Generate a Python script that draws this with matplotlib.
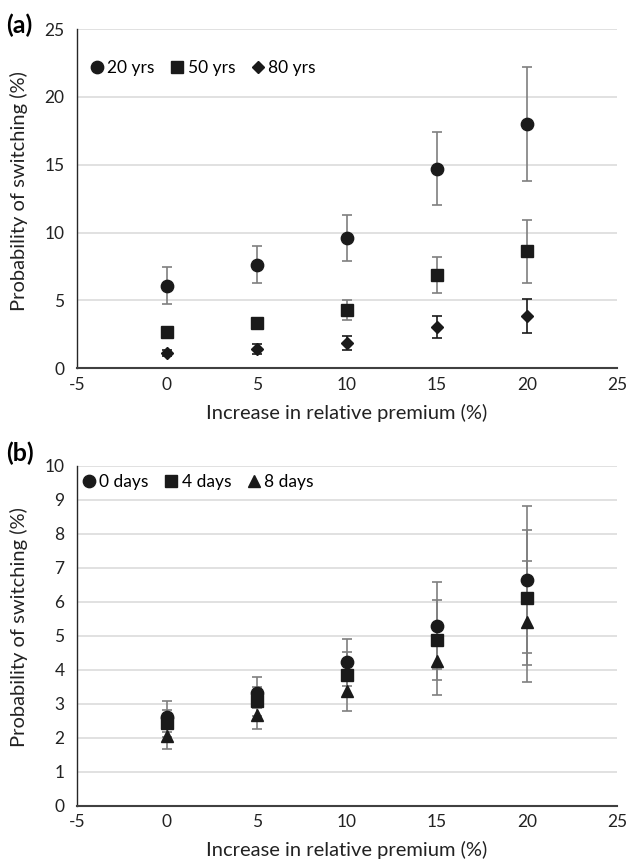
import matplotlib
matplotlib.use("Agg")
import matplotlib.pyplot as plt

plt.rcParams['font.family'] = ['Lato', 'DejaVu Sans']
plt.rcParams['axes.unicode_minus'] = False

# x positions (increase in relative premium, %)
premium = [0, 5, 10, 15, 20]

# panel (a): age groups
a_labels = ['20 yrs', '50 yrs', '80 yrs']
a_20 = [6.10, 7.65, 9.60, 14.70, 18.00]
a_20_err = [1.37, 1.35, 1.72, 2.69, 4.23]
a_50 = [2.65, 3.36, 4.30, 6.88, 8.62]
a_50_err = [0.30, 0.30, 0.77, 1.36, 2.30]
a_80 = [1.13, 1.42, 1.87, 3.02, 3.86]
a_80_err = [0.25, 0.35, 0.49, 0.80, 1.25]

# panel (b): days
b_labels = ['0 days', '4 days', '8 days']
b_0 = [2.62, 3.33, 4.22, 5.30, 6.65]
b_0_err = [0.46, 0.45, 0.69, 1.28, 2.16]
b_4 = [2.42, 3.07, 3.85, 4.87, 6.12]
b_4_err = [0.39, 0.42, 0.66, 1.17, 1.99]
b_8 = [2.06, 2.67, 3.37, 4.27, 5.41]
b_8_err = [0.38, 0.41, 0.59, 1.00, 1.78]

x_ticks = [-5, 0, 5, 10, 15, 20, 25]
dark = '#1a1a1a'


def draw_panel(ax, series, errs, labels, markers, sizes, err_colors,
               ymax, ystep, leg_pos, xlab_y, ylab_y):
    for y, e, c in zip(series, errs, err_colors):
        ax.errorbar(premium, y, yerr=e, fmt='none', ecolor=c,
                    elinewidth=1.2, capsize=3.6, capthick=1.2, zorder=2)
    for y, lab, m, s in zip(series, labels, markers, sizes):
        ax.plot(premium, y, linestyle='none', marker=m, markersize=s,
                color=dark, label=lab, zorder=3)
    ax.set_xlim(-5, 25)
    ax.set_ylim(0, ymax)
    ax.set_xticks(x_ticks)
    ax.set_yticks(range(0, ymax + 1, ystep))
    ax.grid(axis='y', color='#d9d9d9', linewidth=1.1)
    ax.set_axisbelow(True)
    for s in ['top', 'right']:
        ax.spines[s].set_visible(False)
    ax.spines['left'].set_color('#262626')
    ax.spines['left'].set_linewidth(1.0)
    ax.spines['bottom'].set_color('#404040')
    ax.spines['bottom'].set_linewidth(1.5)
    ax.tick_params(axis='y', length=0, labelsize=12.5, pad=9, colors='#222222')
    ax.tick_params(axis='x', length=0, labelsize=12.5, pad=6, colors='#222222')
    ax.set_xlabel('Increase in relative premium (%)', fontsize=14.5,
                  color='#222222', va='center')
    ax.set_ylabel('Probability of switching (%)', fontsize=14.5,
                  color='#222222', va='center')
    ax.xaxis.set_label_coords(0.5, xlab_y)
    ax.yaxis.set_label_coords(-0.107, ylab_y)
    ax.legend(loc='center left', bbox_to_anchor=leg_pos, ncol=3, frameon=False,
              handlelength=0.8, handletextpad=0.2, columnspacing=0.9,
              fontsize=12.5, borderaxespad=0, borderpad=0)


fig = plt.figure(figsize=(6.28, 8.59), dpi=100)
ax_a = fig.add_axes([0.1226, 0.5712, 0.8599, 0.395])
ax_b = fig.add_axes([0.1226, 0.062, 0.8599, 0.3958])

draw_panel(ax_a, [a_20, a_50, a_80], [a_20_err, a_50_err, a_80_err], a_labels,
           ['o', 's', 'D'], [8.9, 8.8, 6.4], ['#7f7f7f', '#7f7f7f', dark],
           25, 5, (0.024, 0.885), -0.132, 0.522)
draw_panel(ax_b, [b_0, b_4, b_8], [b_0_err, b_4_err, b_8_err], b_labels,
           ['o', 's', '^'], [8.9, 8.8, 9.3], ['#7f7f7f'] * 3,
           10, 1, (0.009, 0.953), -0.130, 0.526)

fig.text(6 / 628, 1 - 25 / 859, '(a)', fontsize=18, fontweight='bold',
         ha='left', va='center')
fig.text(6 / 628, 1 - 453 / 859, '(b)', fontsize=18, fontweight='bold',
         ha='left', va='center')

fig.savefig('out.png', dpi=100)
